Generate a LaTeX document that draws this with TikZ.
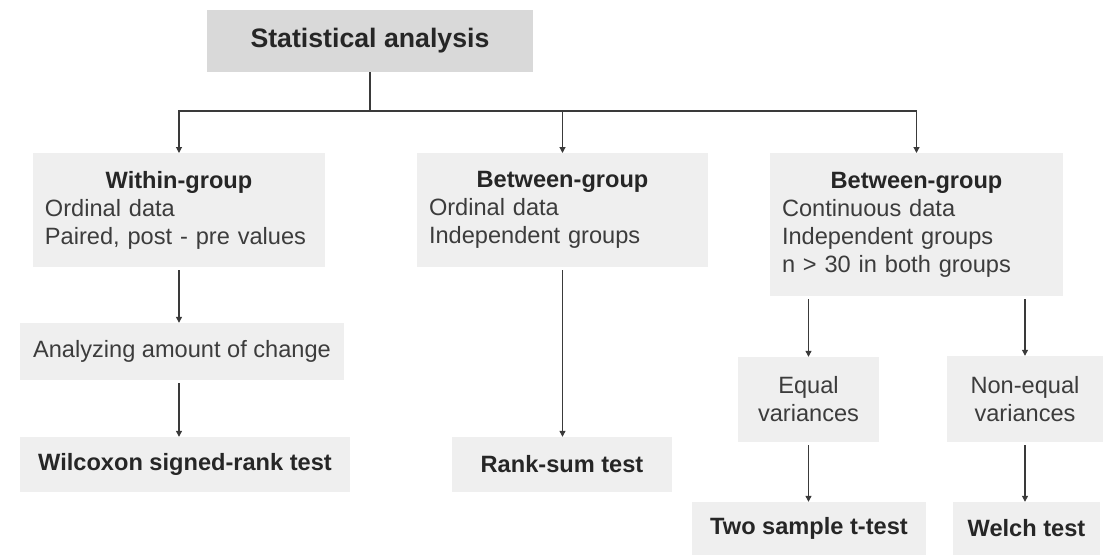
\documentclass[tikz,border=0pt]{standalone}
\usepackage{fontspec}
\setmainfont{Liberation Sans}
\usetikzlibrary{arrows.meta}
\usetikzlibrary{positioning}

\definecolor{boxgrey}{HTML}{EFEFEF}
\definecolor{headgrey}{HTML}{D9D9D9}
\definecolor{linegrey}{HTML}{3A3A3A}
\definecolor{txtgrey}{HTML}{3C3C3C}

\tikzset{
  box/.style={fill=boxgrey, inner sep=0pt, text=txtgrey,
    font=\fontsize{23.6}{28}\selectfont},
  headbox/.style={box, fill=headgrey, text=black!85,
    font=\fontsize{26.7}{32}\selectfont\bfseries},
  groupbox/.style={box, anchor=north, text width=#1, align=left, inner xsep=12pt},
  testbox/.style={box, text=black!85, font=\fontsize{23.6}{28}\selectfont\bfseries},
  conn/.style={draw=linegrey, line width=1.1pt},
  arr/.style={conn, shorten <=3pt, -{Triangle[width=6pt,length=6pt]}}
}

\begin{document}
\begin{tikzpicture}[x=1pt,y=-1pt]
\useasboundingbox (0,0) rectangle (1104,555);

% top
\node[headbox, minimum width=326pt, minimum height=62pt] (stat) at (370,41) {Statistical analysis};

% groups
\node[groupbox=268pt, minimum height=114pt] (within) at (179,153)
  {{\centering\bfseries\color{black!85}Within-group\par}Ordinal data\\Paired, post - pre values};
\node[groupbox=267pt, minimum height=114pt] (betweenO) at (562.5,153)
  {{\centering\bfseries\color{black!85}Between-group\par}Ordinal data\\Independent groups};
\node[groupbox=269pt, minimum height=143pt] (betweenC) at (916.5,153)
  {{\centering\bfseries\color{black!85}Between-group\par}Continuous data\\Independent groups\\n > 30 in both groups};

% second level
\node[box, minimum width=324pt, minimum height=57pt] (change) at (182,351.5) {Analyzing amount of change};
\node[box, minimum width=141pt, minimum height=85pt, align=center] (equal) at (808.5,399.5) {Equal\\variances};
\node[box, minimum width=156pt, minimum height=86pt, align=center] (nonequal) at (1025,399) {Non-equal\\variances};

% tests
\node[testbox, minimum width=330pt, minimum height=55pt] (wilcox) at (185,464.5) {Wilcoxon signed-rank test};
\node[testbox, minimum width=220pt, minimum height=55pt] (ranksum) at (562,464.5) {Rank-sum test};
\node[testbox, minimum width=234pt, minimum height=53pt] (twosample) at (809,528.5) {Two sample t-test};
\node[testbox, minimum width=147pt, minimum height=53pt] (welch) at (1026.5,528.5) {Welch test};

% connectors
\coordinate (hub) at (370,111);
\draw[conn] (stat.south) -- (hub);
\draw[arr, shorten <=0pt] (hub) -| (within.north);
\draw[arr, shorten <=0pt] (hub) -| (betweenO.north);
\draw[arr, shorten <=0pt] (hub) -| (betweenC.north);

\draw[arr] (within.south) -- (within.south |- change.north);
\draw[arr] (within.south |- change.south) -- (within.south |- wilcox.north);
\draw[arr] (betweenO.south) -- (betweenO.south |- ranksum.north);

\draw[arr] (betweenC.south -| equal.north) -- (equal.north);
\draw[arr] (betweenC.south -| nonequal.north) -- (nonequal.north);
\draw[arr] (equal.south) -- (equal.south |- twosample.north);
\draw[arr] (nonequal.south) -- (nonequal.south |- welch.north);
\end{tikzpicture}
\end{document}
